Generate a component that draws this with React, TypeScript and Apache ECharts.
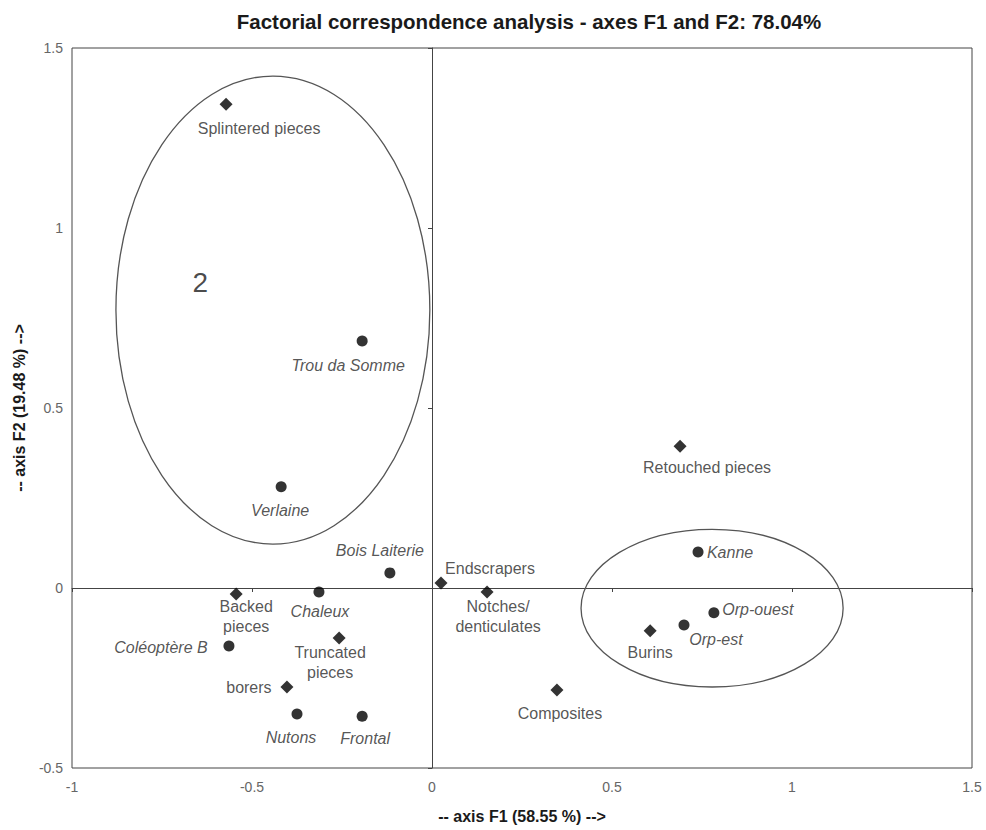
import React, { useEffect, useRef } from "react";
import * as echarts from "echarts";

// ---- Data ----
const siteNames = ["Trou da Somme", "Verlaine", "Bois Laiterie", "Chaleux", "Coléoptère B", "Nutons", "Frontal", "Kanne", "Orp-ouest", "Orp-est"];
const siteF1 = [-0.194, -0.419, -0.117, -0.314, -0.564, -0.375, -0.194, 0.739, 0.783, 0.700];
const siteF2 = [0.686, 0.281, 0.042, -0.011, -0.161, -0.350, -0.356, 0.100, -0.069, -0.103];

const toolNames = ["Splintered pieces", "Endscrapers", "Notches/\ndenticulates", "Backed\npieces", "Truncated\npieces", "borers", "Composites", "Retouched pieces", "Burins"];
const toolF1 = [-0.572, 0.025, 0.153, -0.544, -0.258, -0.403, 0.347, 0.689, 0.606];
const toolF2 = [1.344, 0.014, -0.011, -0.017, -0.139, -0.275, -0.283, 0.394, -0.119];

// ellipses: centre F1, centre F2, radius F1, radius F2
const ellipseCx = [-0.442, 0.778];
const ellipseCy = [0.772, -0.056];
const ellipseRx = [0.436, 0.364];
const ellipseRy = [0.650, 0.219];

const groupLabels = ["2"];
const groupF1 = [-0.644];
const groupF2 = [0.85];

const xTicks = ["-1", "-0.5", "0", "0.5", "1", "1.5"];
const yTicks = ["-0.5", "0", "0.5", "1", "1.5"];

// ---- Label layout (pixel offsets of label centre from the marker) ----
const labelOffsets: Record<string, [number, number]> = {
  "Trou da Somme": [-14, 24],
  "Verlaine": [-1, 24],
  "Bois Laiterie": [-10, -22],
  "Chaleux": [1, 20],
  "Coléoptère B": [-68, 2],
  "Nutons": [-6, 23],
  "Frontal": [3, 22],
  "Kanne": [32, 0],
  "Orp-ouest": [44, -3],
  "Orp-est": [32, 14],
  "Splintered pieces": [33, 24],
  "Endscrapers": [49, -14],
  "Notches/\ndenticulates": [11, 25],
  "Backed\npieces": [10, 22],
  "Truncated\npieces": [-9, 24],
  "borers": [-38, 0],
  "Composites": [3, 24],
  "Retouched pieces": [27, 21],
  "Burins": [0, 22],
};

const FONT = "'Liberation Sans', Arial, sans-serif";

export default function App() {
  const ref = useRef<HTMLDivElement>(null);
  useEffect(() => {
    document.body.style.margin = "0";
    if (!ref.current) return;
    const chart = echarts.init(ref.current, null, { renderer: "svg" });

    const mkPoints = (names: string[], xs: number[], ys: number[]) =>
      names.map((n, i) => ({
        name: n,
        value: [xs[i], ys[i]],
        label: { offset: labelOffsets[n] || [0, 20] },
      }));

    const tickFmt = (list: string[], min: number) => (v: number) => {
      const idx = Math.round((v - min) / 0.5);
      return list[idx] ?? String(v);
    };

    const labelBase = {
      show: true,
      position: "inside" as const,
      align: "center" as const,
      verticalAlign: "middle" as const,
      formatter: "{b}",
      fontFamily: FONT,
      fontSize: 16,
      color: "#2a2a2a",
      lineHeight: 20,
    };

    const option: any = {
      animation: false,
      backgroundColor: "#fff",
      title: {
        text: "Factorial correspondence analysis - axes F1 and F2: 78.04%",
        left: 524,
        textAlign: "center",
        top: 6,
        textStyle: { fontFamily: FONT, fontWeight: "bold", fontSize: 20.5, color: "#1a1a1a" },
      },
      grid: {
        left: 72,
        right: 14,
        top: 48,
        bottom: 62,
        show: true,
        borderColor: "#444",
        borderWidth: 1,
        backgroundColor: "transparent",
      },
      xAxis: [
        {
          type: "value",
          min: -1,
          max: 1.5,
          interval: 0.5,
          position: "bottom",
          axisLine: { show: false, onZero: false },
          axisTick: { show: false },
          splitLine: { show: false },
          axisLabel: { margin: 12, fontSize: 14, color: "#666", fontFamily: FONT, formatter: tickFmt(xTicks, -1) },
          name: "-- axis F1 (58.55 %) -->",
          nameLocation: "middle",
          nameGap: 40,
          nameTextStyle: { fontFamily: FONT, fontWeight: "bold", fontSize: 16, color: "#1a1a1a" },
        },
        {
          type: "value",
          min: -1,
          max: 1.5,
          interval: 0.5,
          position: "bottom",
          axisLine: { show: true, onZero: true, lineStyle: { color: "#444", width: 1 } },
          axisTick: { show: true, length: 4, lineStyle: { color: "#444" } },
          axisLabel: { show: false },
          splitLine: { show: false },
        },
      ],
      yAxis: [
        {
          type: "value",
          min: -0.5,
          max: 1.5,
          interval: 0.5,
          position: "left",
          axisLine: { show: false, onZero: false },
          axisTick: { show: false },
          splitLine: { show: false },
          axisLabel: { margin: 9, fontSize: 14, color: "#666", fontFamily: FONT, formatter: tickFmt(yTicks, -0.5) },
          name: "-- axis F2 (19.48 %) -->",
          nameLocation: "middle",
          nameGap: 43,
          nameTextStyle: { fontFamily: FONT, fontWeight: "bold", fontSize: 16, color: "#1a1a1a" },
        },
        {
          type: "value",
          min: -0.5,
          max: 1.5,
          interval: 0.5,
          position: "left",
          axisLine: { show: true, onZero: true, lineStyle: { color: "#444", width: 1 } },
          axisTick: { show: true, length: 4, lineStyle: { color: "#444" } },
          axisLabel: { show: false },
          splitLine: { show: false },
        },
      ],
      series: [
        {
          type: "custom",
          name: "groups",
          xAxisIndex: 0,
          yAxisIndex: 0,
          silent: true,
          data: ellipseCx.map((c, i) => [c, ellipseCy[i], ellipseRx[i], ellipseRy[i]]),
          encode: { x: 0, y: 1 },
          renderItem: (params: any, api: any) => {
            const c = api.coord([api.value(0), api.value(1)]);
            const s = api.size([api.value(2), api.value(3)]);
            return {
              type: "ellipse",
              shape: { cx: c[0], cy: c[1], rx: s[0], ry: s[1] },
              style: { fill: "none", stroke: "#555", lineWidth: 1.3 },
            };
          },
          z: 1,
        },
        {
          type: "scatter",
          name: "group labels",
          xAxisIndex: 0,
          yAxisIndex: 0,
          symbolSize: 0,
          data: groupLabels.map((g, i) => ({ name: g, value: [groupF1[i], groupF2[i]] })),
          label: { ...labelBase, fontSize: 28, color: "#1a1a1a" },
          silent: true,
        },
        {
          type: "scatter",
          name: "sites",
          xAxisIndex: 0,
          yAxisIndex: 0,
          symbol: "circle",
          symbolSize: 11,
          itemStyle: { color: "#000" },
          data: mkPoints(siteNames, siteF1, siteF2),
          label: { ...labelBase, fontStyle: "italic" },
          z: 3,
        },
        {
          type: "scatter",
          name: "tools",
          xAxisIndex: 0,
          yAxisIndex: 0,
          symbol: "diamond",
          symbolSize: 13,
          itemStyle: { color: "#000" },
          data: mkPoints(toolNames, toolF1, toolF2),
          label: { ...labelBase },
          z: 3,
        },
      ],
    };
    chart.setOption(option);
    return () => chart.dispose();
  }, []);

  return <div ref={ref} style={{ width: 986, height: 830 }} />;
}
